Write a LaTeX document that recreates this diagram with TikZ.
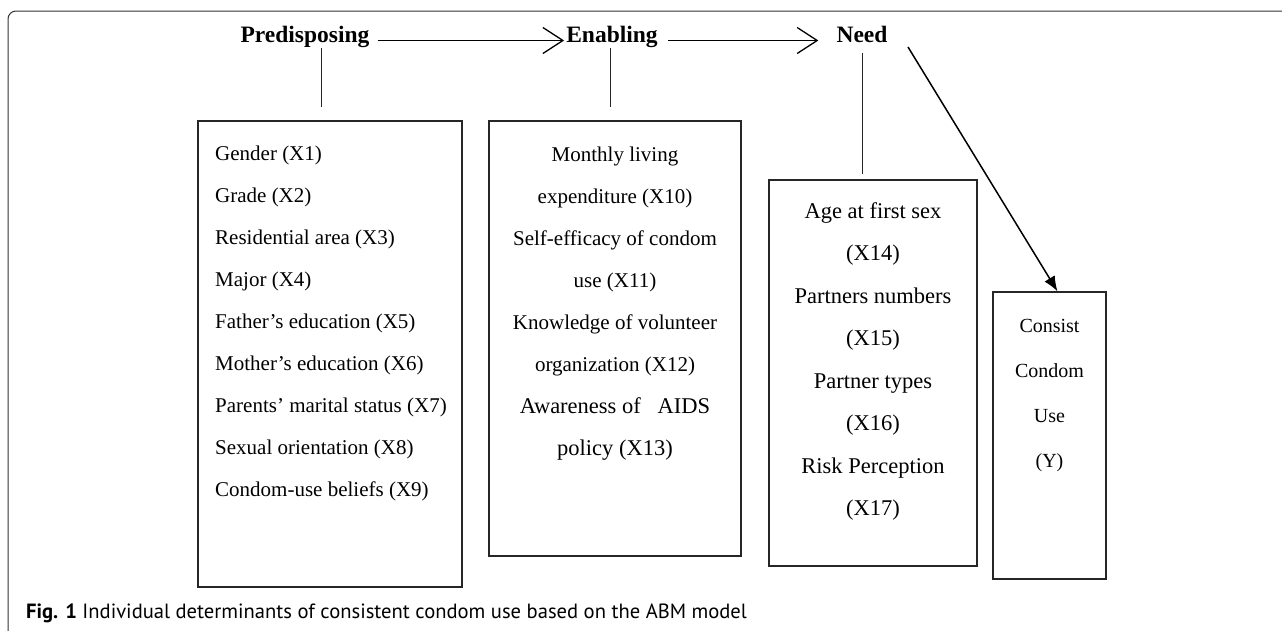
\documentclass[tikz,border=0pt]{standalone}
\usepackage{fontspec}
\setmainfont{Liberation Serif}
\newfontfamily\capfont{PT Sans}
\usetikzlibrary{arrows.meta}
\tikzset{
  head/.style={font=\fontsize{23.5}{28}\selectfont\bfseries, inner sep=0pt, anchor=base},
  box/.style={draw=black!85, line width=1.3pt},
  items/.style={inner sep=0pt, font=\fontsize{21}{42}\selectfont},
  flow/.style={-{Straight Barb[length=20pt,width=26pt]}, line width=1.3pt},
  link/.style={line width=1pt, black!85},
}

\begin{document}
\begin{tikzpicture}[x=1pt, y=-1pt]
      \useasboundingbox (0,0) rectangle (1282,630);
      \draw[black!80, line width=1pt, rounded corners=8pt] (8,650) -- (8,11) -- (1300,11);

      \node[head] (pre) at (305,42) {Predisposing};
      \node[head] (ena) at (612,42) {Enabling};
      \node[head] (need) at (862,42) {Need};

      \draw[flow, shorten <=8pt, shorten >=2pt] ([yshift=1.5pt]pre.base east) -- ([yshift=1.5pt]ena.base west);
      \draw[flow, shorten <=10pt, shorten >=18pt] ([yshift=1.5pt]ena.base east) -- ([yshift=1.5pt]need.base west);

      \node[box, minimum width=264pt, minimum height=466pt] (prebox) at (330,354) {};
      \node[box, minimum width=252pt, minimum height=435pt] (enabox) at (615,338.5) {};
      \node[box, minimum width=208pt, minimum height=386pt] (needbox) at (873,373) {};
      \node[box, minimum width=113pt, minimum height=287pt] (ybox) at (1049.5,435.5) {};

      \coordinate (l1) at (321,107);
      \coordinate (l2) at (610,107);
      \coordinate (l3) at (862,174);
      \draw[link] (l1 |- pre.south) ++(0,-1pt) -- (l1);
      \draw[link] (l2 |- ena.south) ++(0,-1pt) -- (l2);
      \draw[link] (l3 |- need.south) ++(0,-11pt) -- (l3);
      \coordinate (y0) at (908,47);
      \draw[-{Latex[length=15pt,width=12pt]}, line width=1.5pt] (y0) -- ([xshift=8pt]ybox.north);

      \node[items, anchor=north west, align=left] (prelist) at (215,146) {Gender (X1)\\ Grade (X2)\\ Residential area (X3)\\ Major (X4)\\ Father's education (X5)\\ Mother's education (X6)\\ Parents' marital status (X7)\\ Sexual orientation (X8)\\ Condom-use beliefs (X9)};
      \node[items, anchor=north, align=center] (enalist) at (615,147) {Monthly living\\ expenditure (X10)\\ Self-efficacy of condom\\ use (X11)\\ Knowledge of volunteer\\ organization (X12)\\ \fontsize{22.5}{42}\selectfont Awareness of\ \ \ AIDS\\ \fontsize{22.5}{42}\selectfont policy (X13)};
      \node[items, anchor=north, align=center, font=\fontsize{22.5}{42.5}\selectfont] (needlist) at (873,202) {Age at first sex\\ (X14)\\ Partners numbers\\ (X15)\\ Partner types\\ (X16)\\ Risk Perception\\ (X17)};
      \node[items, anchor=north, align=center, font=\fontsize{20}{45}\selectfont] (ylist) at (1049.5,319) {Consist\\ Condom\\ Use\\ (Y)};

      \node[anchor=west, inner sep=0pt, font=\capfont\fontsize{20.6}{24}\selectfont] (cap) at (26,613) {\textbf{Fig. 1} Individual determinants of consistent condom use based on the ABM model};
    \end{tikzpicture}
\end{document}
